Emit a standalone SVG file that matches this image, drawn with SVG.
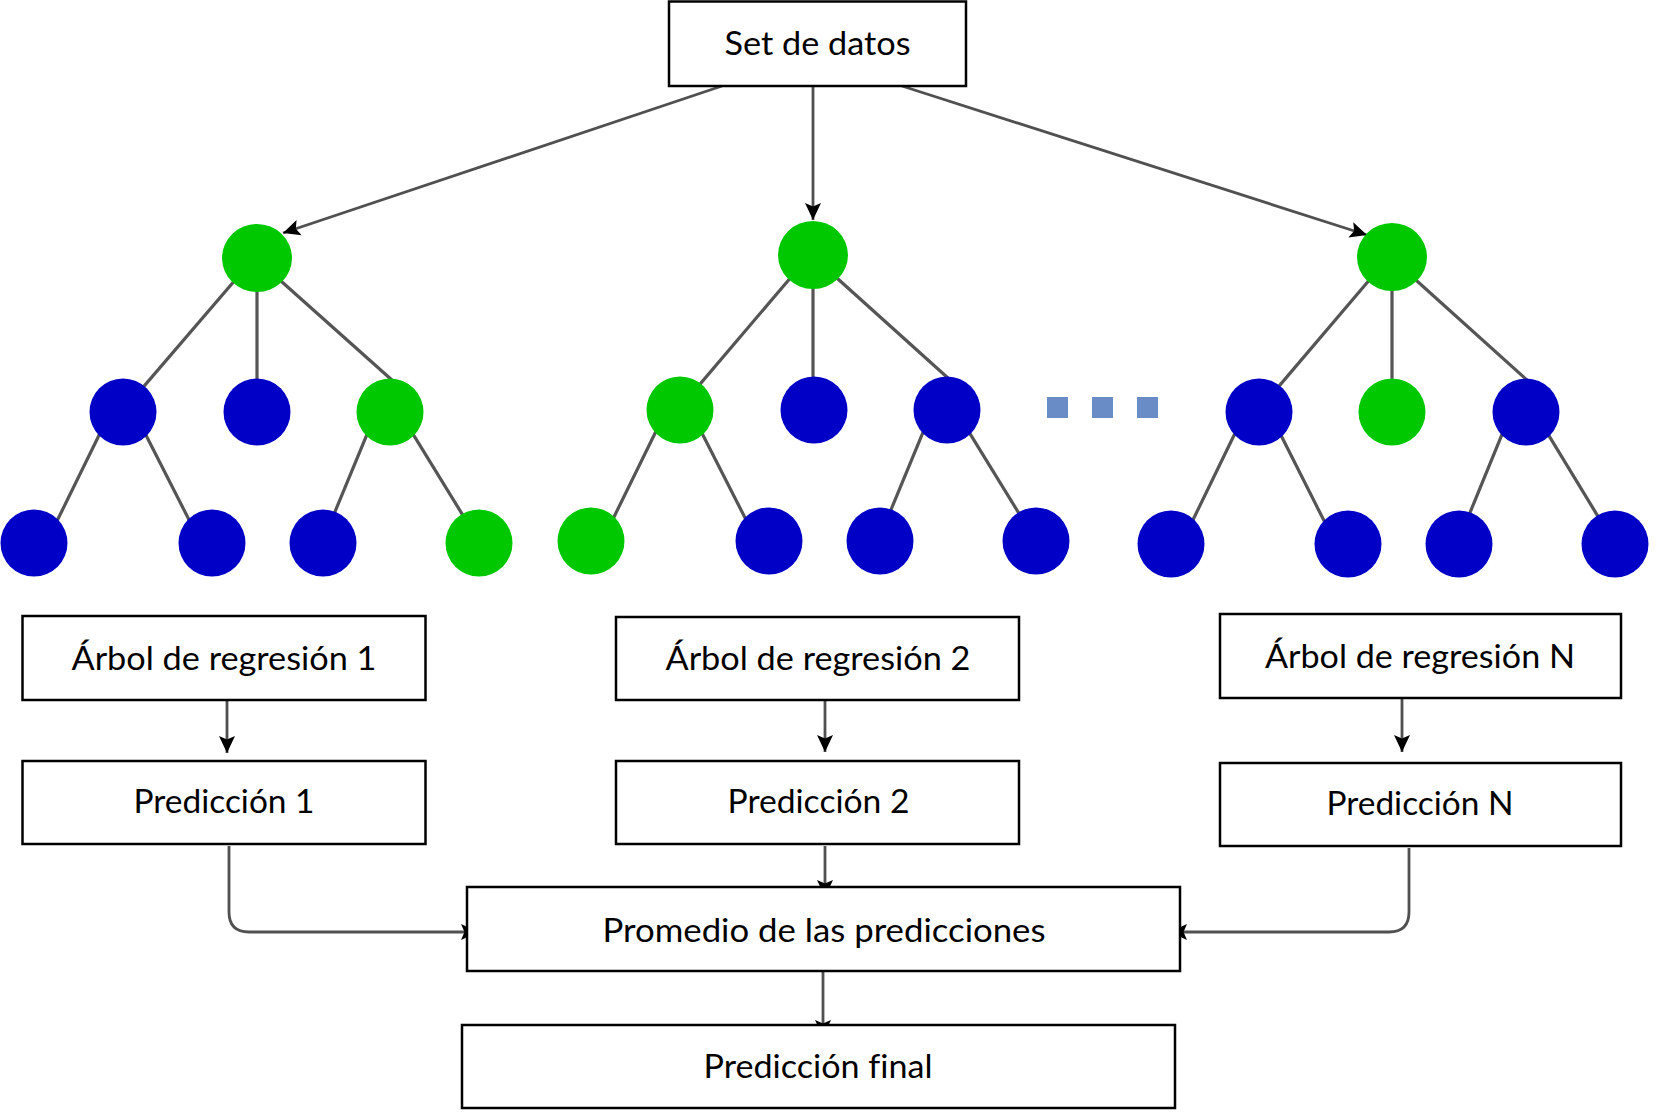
<svg xmlns="http://www.w3.org/2000/svg" width="1659" height="1113" viewBox="0 0 1659 1113">
<style>
.box{fill:#fff;stroke:#000;stroke-width:2.5}
.lbl{font-family:Lato,"Liberation Sans",sans-serif;font-size:33px;fill:#000;text-anchor:middle;font-variant-ligatures:none}
.edge{stroke:#555;stroke-width:3.2;fill:none}
.conn{stroke:#505050;stroke-width:2.8;fill:none}
.g{fill:#00c800}
.b{fill:#0000c6}
.dot{fill:#6a8cc6}
</style>
<defs>
<marker id="arr" markerUnits="userSpaceOnUse" markerWidth="17" markerHeight="17" viewBox="0 0 17 17" refX="17" refY="8.5" orient="auto">
<path d="M0,0.5 L17,8.5 L0,16.5 L3.5,8.5 z" fill="#000"/>
</marker>
</defs>
<rect width="1659" height="1113" fill="#fff"/>
<g id="connectors">
<g id="tree1-edges" transform="translate(257,258)">
<line class="edge" x1="-18.2" y1="17.7" x2="-118.5" y2="134.6"/>
<line class="edge" x1="0" y1="20" x2="0" y2="135"/>
<line class="edge" x1="17.2" y1="17" x2="140.5" y2="127"/>
<line class="edge" x1="-154.3" y1="169.7" x2="-203.1" y2="269.3"/>
<line class="edge" x1="-114.8" y1="169.8" x2="-64.2" y2="269.2"/>
<line class="edge" x1="113.5" y1="167.8" x2="74.2" y2="262.9"/>
<line class="edge" x1="152.8" y1="170.8" x2="209.9" y2="263.8"/>
</g>
<g id="tree2-edges" transform="translate(813,255)">
<line class="edge" x1="-18.2" y1="17.7" x2="-118.5" y2="135.6"/>
<line class="edge" x1="0" y1="20" x2="0" y2="136"/>
<line class="edge" x1="17.2" y1="17" x2="140.5" y2="128"/>
<line class="edge" x1="-154.3" y1="170.7" x2="-203.1" y2="270.3"/>
<line class="edge" x1="-114.8" y1="170.8" x2="-64.2" y2="270.2"/>
<line class="edge" x1="113.5" y1="168.8" x2="74.2" y2="263.9"/>
<line class="edge" x1="152.8" y1="171.8" x2="209.9" y2="264.8"/>
</g>
<g id="tree3-edges" transform="translate(1392,257)">
<line class="edge" x1="-18.2" y1="17.7" x2="-118.5" y2="135.6"/>
<line class="edge" x1="0" y1="20" x2="0" y2="136"/>
<line class="edge" x1="17.2" y1="17" x2="140.5" y2="128"/>
<line class="edge" x1="-154.3" y1="170.7" x2="-203.1" y2="271.3"/>
<line class="edge" x1="-114.8" y1="170.8" x2="-64.2" y2="271.2"/>
<line class="edge" x1="113.5" y1="168.8" x2="74.2" y2="264.9"/>
<line class="edge" x1="152.8" y1="171.8" x2="209.9" y2="265.8"/>
</g>
<line class="conn" x1="722" y1="86" x2="283" y2="233" marker-end="url(#arr)"/>
<line class="conn" x1="813" y1="86" x2="813" y2="220" marker-end="url(#arr)"/>
<line class="conn" x1="902" y1="86" x2="1367" y2="235" marker-end="url(#arr)"/>
<line class="conn" x1="227" y1="700" x2="227" y2="753" marker-end="url(#arr)"/>
<line class="conn" x1="825" y1="700" x2="825" y2="752" marker-end="url(#arr)"/>
<line class="conn" x1="1402" y1="698" x2="1402" y2="752" marker-end="url(#arr)"/>
<path class="conn" d="M229,846 V912 Q229,932 249,932 H478" marker-end="url(#arr)"/>
<path class="conn" d="M1409,848 V912 Q1409,932 1389,932 H1170" marker-end="url(#arr)"/>
<line class="conn" x1="825" y1="846" x2="825" y2="897" marker-end="url(#arr)"/>
<line class="conn" x1="823" y1="971" x2="823" y2="1037" marker-end="url(#arr)"/>
</g>
<g id="set-de-datos"><rect class="box" x="669" y="1.5" width="297" height="84.5"/><text class="lbl" x="817.5" y="55" textLength="186" lengthAdjust="spacingAndGlyphs">Set de datos</text></g>
<g id="tree1">
<g id="t1-n0"><ellipse class="g" cx="257" cy="258" rx="35" ry="34"/></g>
<g id="t1-n1"><circle class="b" cx="123" cy="412" r="33.5"/></g>
<g id="t1-n2"><circle class="b" cx="257" cy="412" r="33.5"/></g>
<g id="t1-n3"><circle class="g" cx="390" cy="412" r="33.5"/></g>
<g id="t1-n4"><circle class="b" cx="34" cy="543" r="33.5"/></g>
<g id="t1-n5"><circle class="b" cx="212" cy="543" r="33.5"/></g>
<g id="t1-n6"><circle class="b" cx="323" cy="543" r="33.5"/></g>
<g id="t1-n7"><circle class="g" cx="479" cy="543" r="33.5"/></g>
</g>
<g id="tree2">
<g id="t2-n0"><ellipse class="g" cx="813" cy="255" rx="35" ry="34"/></g>
<g id="t2-n1"><circle class="g" cx="680" cy="410" r="33.5"/></g>
<g id="t2-n2"><circle class="b" cx="814" cy="410" r="33.5"/></g>
<g id="t2-n3"><circle class="b" cx="947" cy="410" r="33.5"/></g>
<g id="t2-n4"><circle class="g" cx="591" cy="541" r="33.5"/></g>
<g id="t2-n5"><circle class="b" cx="769" cy="541" r="33.5"/></g>
<g id="t2-n6"><circle class="b" cx="880" cy="541" r="33.5"/></g>
<g id="t2-n7"><circle class="b" cx="1036" cy="541" r="33.5"/></g>
</g>
<g id="ellipsis">
<rect class="dot" x="1047" y="397" width="21" height="21"/>
<rect class="dot" x="1092" y="397" width="21" height="21"/>
<rect class="dot" x="1137" y="397" width="21" height="21"/>
</g>
<g id="tree3">
<g id="t3-n0"><ellipse class="g" cx="1392" cy="257" rx="35" ry="34"/></g>
<g id="t3-n1"><circle class="b" cx="1259" cy="412" r="33.5"/></g>
<g id="t3-n2"><circle class="g" cx="1392" cy="412" r="33.5"/></g>
<g id="t3-n3"><circle class="b" cx="1526" cy="412" r="33.5"/></g>
<g id="t3-n4"><circle class="b" cx="1171" cy="544" r="33.5"/></g>
<g id="t3-n5"><circle class="b" cx="1348" cy="544" r="33.5"/></g>
<g id="t3-n6"><circle class="b" cx="1459" cy="544" r="33.5"/></g>
<g id="t3-n7"><circle class="b" cx="1615" cy="544" r="33.5"/></g>
</g>
<g id="arbol-1"><rect class="box" x="22.5" y="616" width="403" height="84"/><text class="lbl" x="224" y="670" textLength="305" lengthAdjust="spacingAndGlyphs">Árbol de regresión 1</text></g>
<g id="prediccion-1"><rect class="box" x="22.5" y="761" width="403" height="83"/><text class="lbl" x="224" y="813" textLength="181" lengthAdjust="spacingAndGlyphs">Predicción 1</text></g>
<g id="arbol-2"><rect class="box" x="616" y="617" width="403" height="83"/><text class="lbl" x="818" y="670" textLength="305" lengthAdjust="spacingAndGlyphs">Árbol de regresión 2</text></g>
<g id="prediccion-2"><rect class="box" x="616" y="761" width="403" height="83"/><text class="lbl" x="818.5" y="813" textLength="182" lengthAdjust="spacingAndGlyphs">Predicción 2</text></g>
<g id="arbol-n"><rect class="box" x="1220" y="614" width="401" height="84"/><text class="lbl" x="1420" y="668" textLength="310" lengthAdjust="spacingAndGlyphs">Árbol de regresión N</text></g>
<g id="prediccion-n"><rect class="box" x="1220" y="763" width="401" height="83"/><text class="lbl" x="1420" y="815" textLength="187" lengthAdjust="spacingAndGlyphs">Predicción N</text></g>
<g id="promedio"><rect class="box" x="467" y="887" width="713" height="84"/><text class="lbl" x="824" y="942" textLength="443" lengthAdjust="spacingAndGlyphs">Promedio de las predicciones</text></g>
<g id="prediccion-final"><rect class="box" x="462" y="1025" width="713" height="83"/><text class="lbl" x="818" y="1078" textLength="229" lengthAdjust="spacingAndGlyphs">Predicción final</text></g>
</svg>
